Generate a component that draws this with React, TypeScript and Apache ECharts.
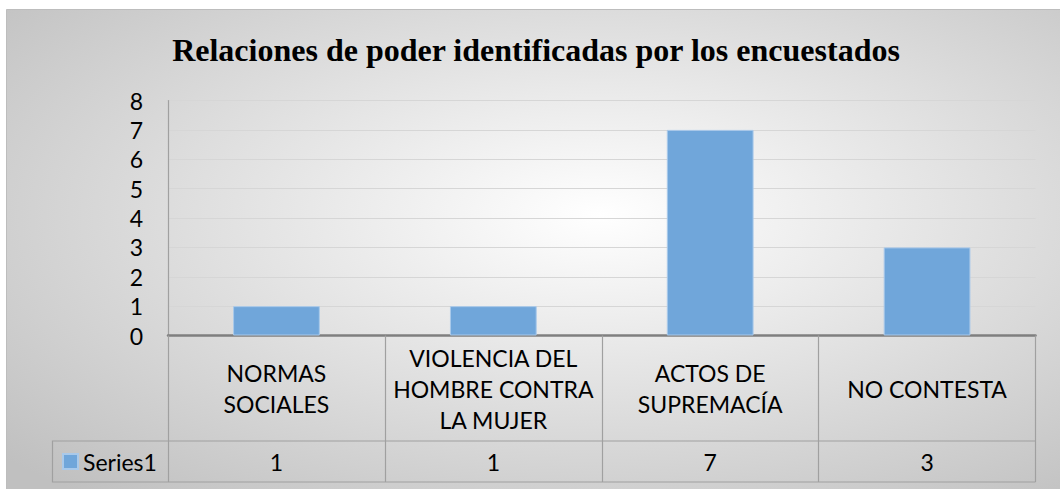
import React, { useEffect, useRef } from "react";
import * as echarts from "echarts";

const TITLE = "Relaciones de poder identificadas por los encuestados";
const categories = ["NORMAS\nSOCIALES", "VIOLENCIA DEL\nHOMBRE CONTRA\nLA MUJER", "ACTOS DE\nSUPREMACÍA", "NO CONTESTA"];
const seriesName = "Series1";
const values = [1, 1, 7, 3];
const yTicks = [0, 8, 1]; // min, max, interval

const FONT = "Lato, 'Noto Sans', sans-serif";

export default function App() {
  const ref = useRef<HTMLDivElement>(null);
  useEffect(() => {
    if (!ref.current) return;
    const chart = echarts.init(ref.current, undefined, { renderer: "svg" });
    const gridLeft = 168;
    const gridRight = 1035.5;
    const gridTop = 100.5;
    const zeroY = 335.5;
    const rowY = 441;
    const tableBottom = 482;
    const lineColor = "#a0a0a0";
    chart.setOption({
      animation: false,
      graphic: [
        {
          type: "rect",
          z: -100,
          silent: true,
          shape: { x: 6.5, y: 9.5, width: 1060, height: 490 },
          style: {
            fill: new echarts.graphic.RadialGradient(0.56, 0.42, 0.75, [
              { offset: 0, color: "#ffffff" },
              { offset: 1, color: "#c0c0c0" },
            ]),
            stroke: "#bdbdbd",
            lineWidth: 1,
          },
        },
        {
          type: "text",
          x: 536,
          y: 50,
          style: {
            text: TITLE,
            font: "bold 32px 'Liberation Serif', 'Times New Roman', serif",
            fill: "#000",
            textAlign: "center",
            textVerticalAlign: "middle",
          },
        },
        {
          type: "line",
          shape: { x1: gridLeft, y1: rowY, x2: gridRight, y2: rowY },
          style: { stroke: lineColor, lineWidth: 1.2 },
        },
        {
          type: "polyline",
          shape: { points: [[gridLeft, rowY], [52.5, rowY], [52.5, tableBottom], [gridRight, tableBottom]] },
          style: { stroke: lineColor, lineWidth: 1.2, fill: "none" },
        },
      ],
      legend: {
        left: 62,
        top: 450,
        icon: "rect",
        itemWidth: 15,
        itemHeight: 15,
        itemGap: 0,
        padding: 0,
        textStyle: { fontFamily: FONT, fontSize: 23, color: "#000" },
        data: [seriesName],
      },
      grid: {
        left: gridLeft,
        right: 1060 - gridRight,
        top: gridTop,
        bottom: 489 - zeroY,
        containLabel: false,
      },
      xAxis: [
        {
          type: "category",
          data: categories,
          position: "bottom",
          axisLine: { show: true, lineStyle: { color: "#7f7f7f", width: 2.5 } },
          axisTick: {
            show: true,
            alignWithLabel: false,
            length: tableBottom - zeroY,
            lineStyle: { color: lineColor, width: 1.2 },
          },
          axisLabel: {
            interval: 0,
            margin: 53,
            verticalAlign: "middle",
            align: "center",
            fontFamily: FONT,
            fontSize: 23,
            lineHeight: 31,
            color: "#000",
          },
          splitLine: { show: false },
        },
        {
          type: "category",
          data: values.map(String),
          position: "bottom",
          axisLine: { show: false },
          axisTick: { show: false },
          axisLabel: {
            interval: 0,
            margin: 126,
            verticalAlign: "middle",
            fontFamily: FONT,
            fontSize: 23,
            color: "#000",
          },
        },
      ],
      yAxis: {
        type: "value",
        min: yTicks[0],
        max: yTicks[1],
        interval: yTicks[2],
        axisLine: { show: true, lineStyle: { color: lineColor, width: 1.2 } },
        axisTick: { show: false },
        axisLabel: { margin: 25, fontFamily: FONT, fontSize: 23, color: "#000" },
        splitLine: { show: true, lineStyle: { color: "#d6d6d6", width: 1.2 } },
      },
      series: [
        {
          name: seriesName,
          type: "bar",
          data: values,
          barWidth: "40%",
          itemStyle: { color: "#70a6da", borderColor: "#a9c9ea", borderWidth: 1 },
        },
      ],
    });
    return () => chart.dispose();
  }, []);
  return (
    <div
      ref={ref}
      style={{ position: "fixed", left: 0, top: 0, width: 1060, height: 489, background: "#fff" }}
    />
  );
}
